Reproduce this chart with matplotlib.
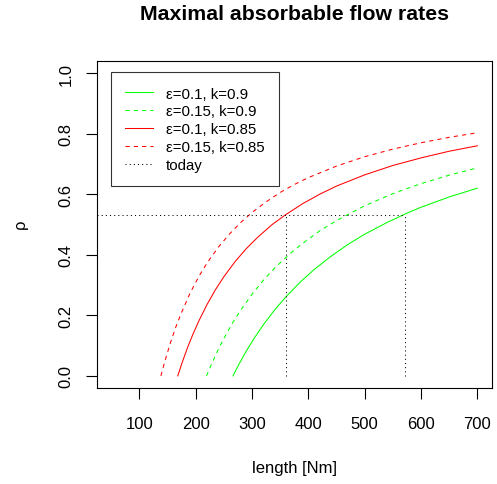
import matplotlib
matplotlib.use("Agg")
import matplotlib.pyplot as plt

plt.rcParams['font.family'] = ['Liberation Sans', 'DejaVu Sans']

# Curves: length [Nm] vs rho
x_e01_k090 = [266, 277, 290, 305, 320, 340, 360, 385, 410, 440, 470, 500, 540, 572, 600, 650, 700]
y_e01_k090 = [0.0, 0.040, 0.083, 0.128, 0.169, 0.218, 0.261, 0.309, 0.351, 0.395, 0.434, 0.468, 0.507, 0.535, 0.557, 0.591, 0.620]

x_e015_k090 = [219, 228, 240, 252, 265, 280, 300, 320, 340, 365, 390, 420, 450, 500, 550, 600, 650, 700]
y_e015_k090 = [0.0, 0.039, 0.088, 0.131, 0.174, 0.218, 0.270, 0.316, 0.356, 0.400, 0.438, 0.479, 0.513, 0.562, 0.602, 0.635, 0.663, 0.687]

x_e01_k085 = [168, 175, 185, 195, 205, 220, 235, 250, 270, 290, 310, 335, 360, 390, 420, 450, 500, 550, 600, 650, 700]
y_e01_k085 = [0.0, 0.040, 0.092, 0.138, 0.180, 0.236, 0.285, 0.328, 0.378, 0.421, 0.458, 0.499, 0.533, 0.569, 0.600, 0.627, 0.664, 0.695, 0.720, 0.742, 0.760]

x_e015_k085 = [138, 145, 155, 165, 175, 190, 205, 220, 240, 260, 280, 300, 325, 350, 375, 400, 450, 500, 550, 600, 650, 700]
y_e015_k085 = [0.0, 0.048, 0.110, 0.164, 0.211, 0.274, 0.327, 0.373, 0.425, 0.469, 0.507, 0.540, 0.575, 0.606, 0.632, 0.655, 0.693, 0.724, 0.749, 0.770, 0.788, 0.803]

rho_today = 0.532
len_today = [360, 572]

labels = ["ε=0.1, k=0.9", "ε=0.15, k=0.9", "ε=0.1, k=0.85", "ε=0.15, k=0.85", "today"]
xticks = [100, 200, 300, 400, 500, 600, 700]
yticks = [0.0, 0.2, 0.4, 0.6, 0.8, 1.0]

W, H = 497, 485
fig = plt.figure(figsize=(W / 100, H / 100), dpi=100)
L, R, T, B = 96.7, 492, 62, 389
ax = fig.add_axes([L / W, 1 - B / H, (R - L) / W, (B - T) / H])

xlim = (24.0, 726.0)
ylim = (-0.04, 1.04)
ax.set_xlim(*xlim)
ax.set_ylim(*ylim)

lw = 0.75
dash = (0, (4, 4))
dot = (0, (1, 3))
ax.plot(x_e01_k090, y_e01_k090, color="#00FF00", lw=lw, linestyle="-", label=labels[0])
ax.plot(x_e015_k090, y_e015_k090, color="#00FF00", lw=lw, linestyle=dash, label=labels[1])
ax.plot(x_e01_k085, y_e01_k085, color="#FF0000", lw=lw, linestyle="-", label=labels[2])
ax.plot(x_e015_k085, y_e015_k085, color="#FF0000", lw=lw, linestyle=dash, label=labels[3])

ax.plot([xlim[0], len_today[1]], [rho_today, rho_today], color="black", lw=lw, linestyle=dot, label=labels[4])
for lt in len_today:
    ax.plot([lt, lt], [0, rho_today], color="black", lw=lw, linestyle=dot)

for s in ax.spines.values():
    s.set_linewidth(0.8)
    s.set_color("black")

ax.set_xticks(xticks)
ax.set_xticklabels([str(v) for v in xticks])
ax.set_yticks(yticks)
ax.set_yticklabels([f"{v:.1f}" for v in yticks], rotation=90, va="center")
ax.tick_params(axis="both", direction="out", length=8, width=0.8, labelsize=12, color="black")
ax.tick_params(axis="x", pad=12)
ax.tick_params(axis="y", pad=8.5)

fig.text(294.4 / W, 1 - 15 / H, "Maximal absorbable flow rates", ha="center", va="center",
         fontsize=15.3, fontweight="bold")
fig.text(295 / W, 1 - 469 / H, "length [Nm]", ha="center", va="center", fontsize=12)
fig.text(20 / W, 1 - 224 / H, "ρ", ha="center", va="center", fontsize=12, rotation=90)

leg = ax.legend(loc="upper left", bbox_to_anchor=((110.7 - L) / (R - L), 1 - (73.3 - T) / (B - T)),
                frameon=True, fancybox=False, fontsize=10.8, handlelength=1.9, handletextpad=0.85,
                labelspacing=0.26, borderpad=0.95, borderaxespad=0.0)
leg.get_frame().set_edgecolor("black")
leg.get_frame().set_linewidth(0.8)

fig.savefig("out.png", dpi=100)
